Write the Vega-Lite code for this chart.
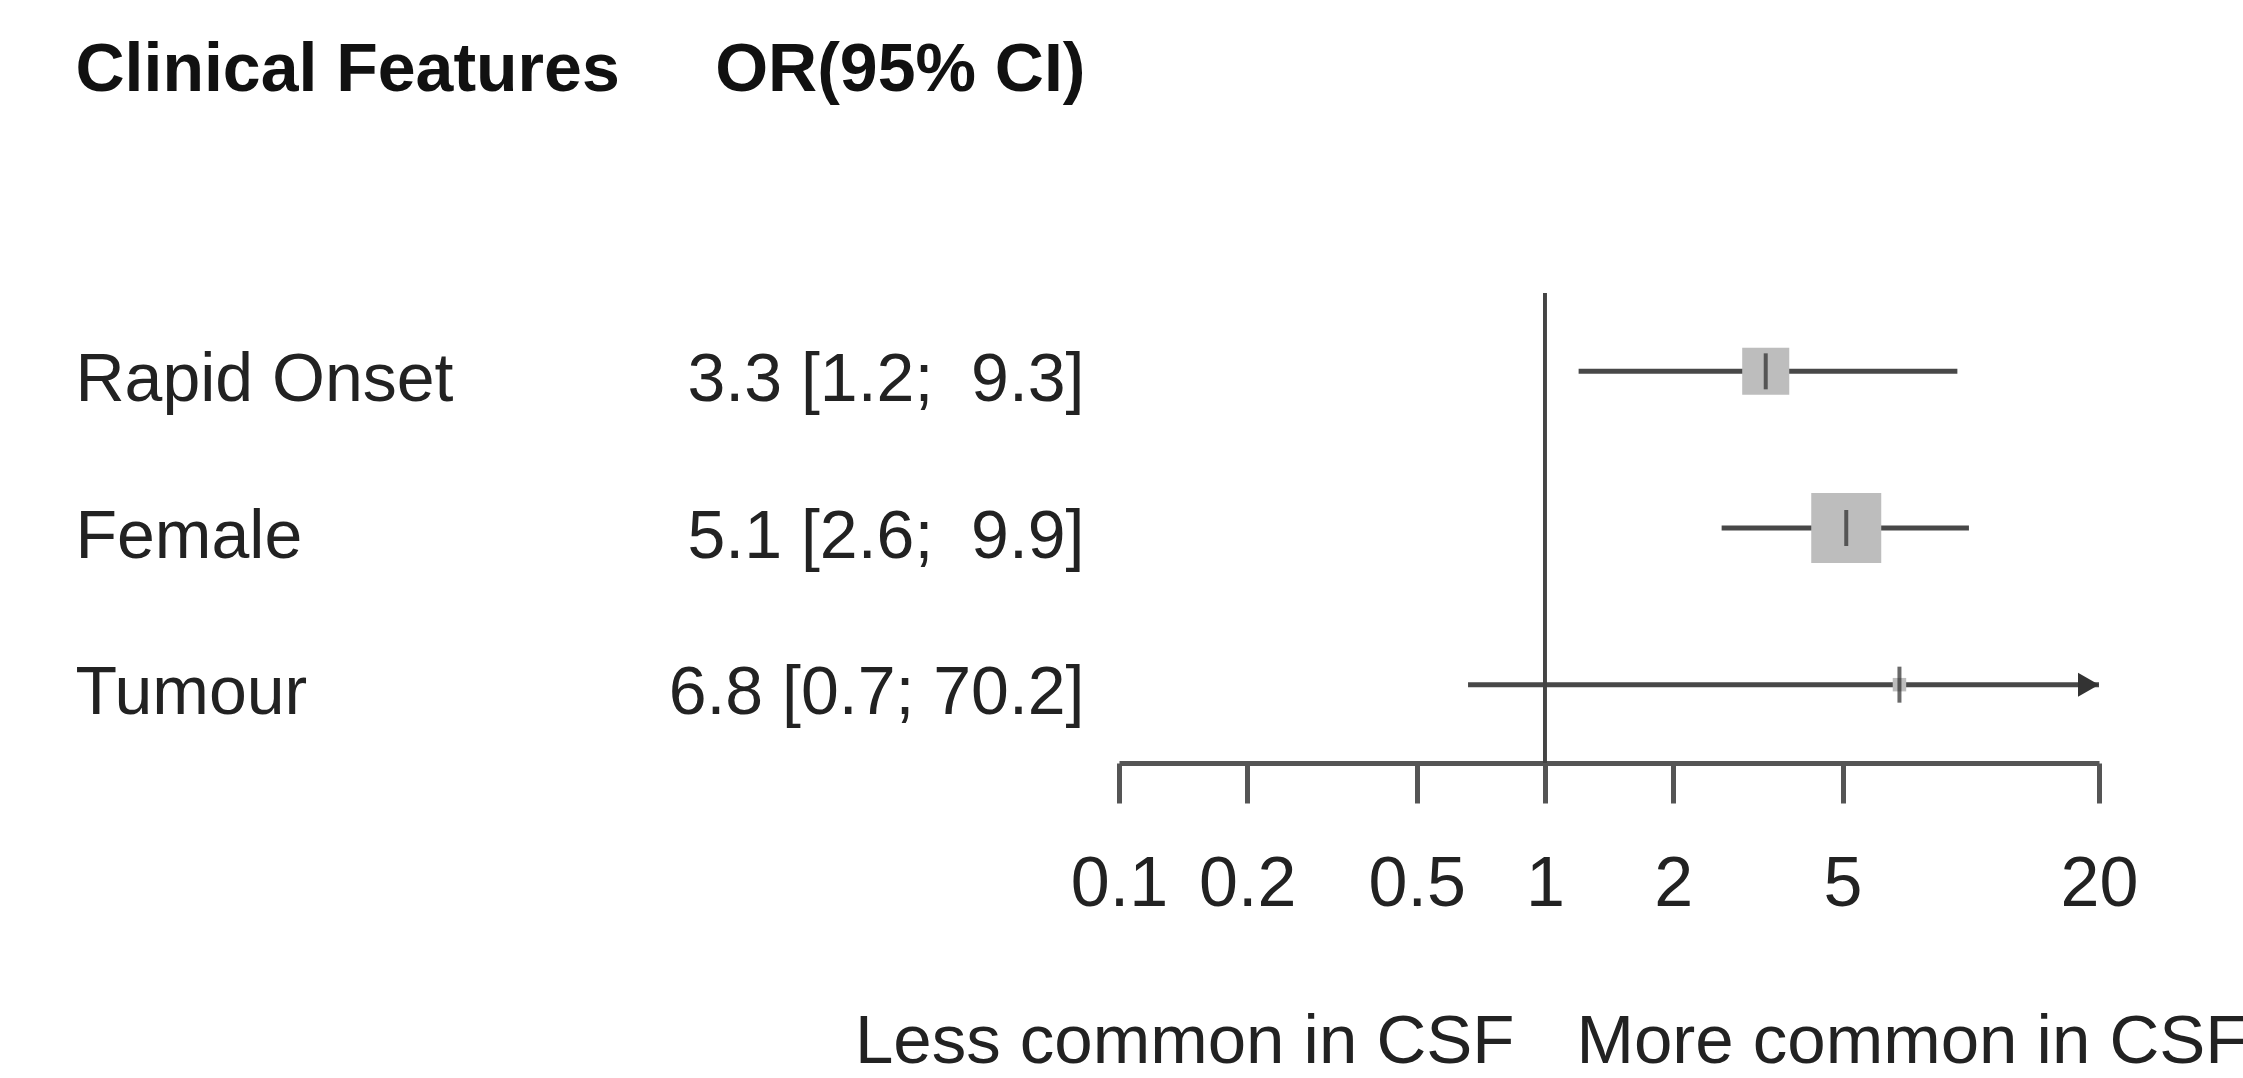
{
  "$schema": "https://vega.github.io/schema/vega-lite/v6.json",
  "autosize": {"type": "none"},
  "padding": {"left": 1119, "top": 293, "right": 144, "bottom": 315},
  "width": 980,
  "height": 470,
  "background": "white",
  "config": {"view": {"stroke": null}, "font": "Liberation Sans"},
  "data": {
    "values": [
      {"feature": "Rapid Onset", "ci": "3.3 [1.2;\u00a0 9.3]", "or": 3.3, "lower": 1.2, "upper": 9.3, "weight": 30.5},
      {"feature": "Female", "ci": "5.1 [2.6;\u00a0 9.9]", "or": 5.1, "lower": 2.6, "upper": 9.9, "weight": 67.5},
      {"feature": "Tumour", "ci": "6.8 [0.7; 70.2]", "or": 6.8, "lower": 0.66, "upper": 70.2, "weight": 2.5}
    ]
  },
  "layer": [
    {
      "layer": [
        {
          "mark": {"type": "rule", "color": "#484848", "strokeWidth": 5},
          "encoding": {
            "x": {
              "field": "lower", "type": "quantitative",
              "scale": {"type": "log", "domain": [0.1, 20], "clamp": true, "nice": false},
              "title": "Less common in CSF",
              "axis": {
                "orient": "bottom", "values": [0.1, 0.2, 0.5, 1, 2, 5, 20], "format": "~g",
                "grid": false, "domain": true, "domainColor": "#555", "domainWidth": 5,
                "ticks": true, "tickColor": "#555", "tickWidth": 5, "tickSize": 40,
                "labelFont": "Liberation Sans", "labelFontSize": 70, "labelColor": "#222",
                "labelPadding": 47, "labelFlush": false, "labelOverlap": false, "labelBaseline": "top",
                "titleX": 395, "titleY": 299, "titleAlign": "right", "titleBaseline": "alphabetic",
                "titleFont": "Liberation Sans", "titleFontSize": 69, "titleFontWeight": "normal", "titleColor": "#222"
              }
            },
            "x2": {"field": "upper"},
            "y": {
              "field": "feature", "type": "nominal", "sort": null,
              "scale": {"type": "point", "padding": 0.5},
              "title": "Clinical Features",
              "axis": {
                "orient": "left", "domain": false, "ticks": false, "grid": false,
                "labelAlign": "left", "labelPadding": 1044, "labelLimit": 3000,
                "labelFont": "Liberation Sans", "labelFontSize": 68, "labelColor": "#222", "labelOffset": 9,
                "titleX": -1044, "titleY": -203, "titleAngle": 0, "titleAlign": "left", "titleBaseline": "alphabetic",
                "titleFont": "Liberation Sans", "titleFontSize": 68, "titleFontWeight": "bold", "titleColor": "#111"
              }
            }
          }
        },
        {
          "mark": {"type": "point", "shape": "square", "filled": true, "color": "#bdbdbd", "opacity": 1},
          "encoding": {
            "x": {"field": "or", "type": "quantitative", "title": "Less common in CSF"},
            "y": {"field": "feature", "type": "nominal", "sort": null, "title": "Clinical Features"},
            "size": {"field": "weight", "type": "quantitative", "scale": {"domain": [0, 67.5], "range": [0, 4900]}, "legend": null}
          }
        },
        {
          "transform": [{"filter": "datum.upper > 20"}],
          "mark": {"type": "point", "shape": "M -1.75 -1 L 0 0 L -1.75 1 Z", "filled": true, "color": "#333", "opacity": 1, "size": 576},
          "encoding": {
            "x": {"field": "upper", "type": "quantitative", "title": "Less common in CSF"},
            "y": {"field": "feature", "type": "nominal", "sort": null, "title": "Clinical Features"}
          }
        }
      ]
    },
    {
      "mark": {"type": "rule", "color": "#444", "strokeWidth": 3.5},
      "encoding": {
        "x": {
          "datum": 1, "type": "quantitative",
          "scale": {"type": "log", "domain": [0.1, 20], "clamp": true, "nice": false},
          "axis": null
        }
      }
    },
    {
      "mark": {"type": "tick", "color": "#2a2a2a", "thickness": 4, "size": 36},
      "encoding": {
        "x": {
          "field": "or", "type": "quantitative",
          "scale": {"type": "log", "domain": [0.1, 20], "clamp": true, "nice": false},
          "title": "More common in CSF",
          "axis": {
            "orient": "bottom", "domain": false, "ticks": false, "labels": false, "grid": false,
            "titleX": 457, "titleY": 299, "titleAlign": "left", "titleBaseline": "alphabetic",
            "titleFont": "Liberation Sans", "titleFontSize": 69, "titleFontWeight": "normal", "titleColor": "#222"
          }
        },
        "y": {
          "field": "ci", "type": "nominal", "sort": null,
          "scale": {"type": "point", "padding": 0.5},
          "title": "OR(95% CI)",
          "axis": {
            "orient": "left", "domain": false, "ticks": false, "grid": false,
            "labelAlign": "right", "labelPadding": 35, "labelLimit": 3000,
            "labelFont": "Liberation Sans", "labelFontSize": 68, "labelColor": "#222", "labelOffset": 9,
            "titleX": -34, "titleY": -203, "titleAngle": 0, "titleAlign": "right", "titleBaseline": "alphabetic",
            "titleFont": "Liberation Sans", "titleFontSize": 68, "titleFontWeight": "bold", "titleColor": "#111"
          }
        }
      }
    }
  ],
  "resolve": {"scale": {"x": "independent", "y": "independent"}}
}
